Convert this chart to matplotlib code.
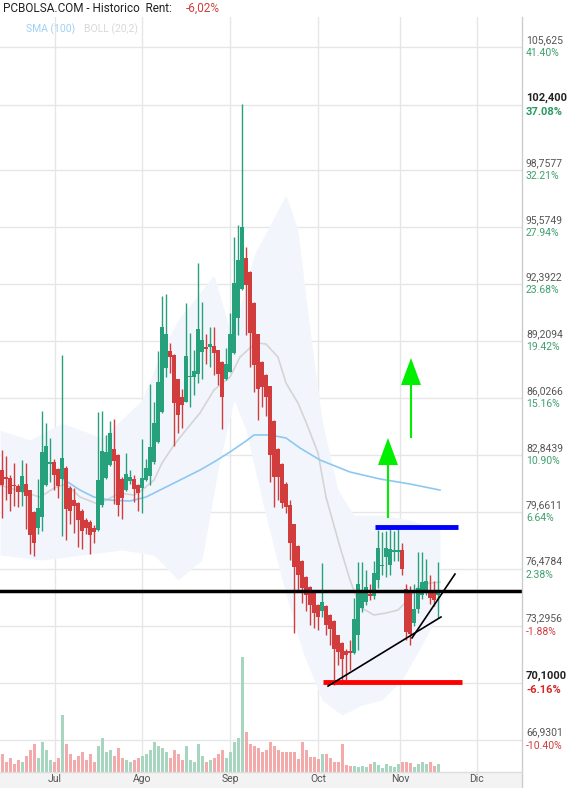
import matplotlib
matplotlib.use("Agg")
import matplotlib.pyplot as plt
import numpy as np

plt.rcParams['font.family'] = ['Roboto', 'DejaVu Sans']

opens = [81.99,81.54,81.54,81.10,81.10,80.76,81.21,80.87,79.64,78.75,
         79.37,81.15,82.33,82.44,82.05,81.49,82.10,80.98,80.31,80.15,
         79.70,79.20,79.09,78.75,78.64,80.04,81.54,82.27,83.17,82.83,
         81.49,80.87,81.35,81.49,81.15,80.98,81.43,81.66,82.44,83.56,
         85.23,87.69,88.64,88.42,87.07,86.07,85.79,87.19,87.19,87.35,
         88.58,88.86,88.86,88.92,88.70,88.03,87.07,87.47,88.53,90.48,
         92.10,93.83,93.05,91.32,89.59,88.03,87.30,86.69,84.73,83.17,
         82.33,81.21,80.04,78.97,77.75,76.91,76.01,75.45,75.12,74.45,
         74.11,74.39,73.89,73.56,72.77,72.33,71.88,71.88,71.77,72.77,
         74.28,74.62,75.06,74.95,75.85,76.63,77.13,76.68,77.41,77.41,
         77.52,75.34,75.29,73.44,74.23,75.01,75.29,75.29,75.23,75.01]
closes = [81.15,81.50,80.65,81.08,80.76,81.66,80.54,78.36,77.91,79.87,
          83.00,83.33,82.44,81.71,81.10,82.66,79.81,79.70,79.98,79.20,
          78.58,78.75,78.36,78.53,81.43,83.05,83.00,84.06,82.50,80.04,
          80.43,81.77,81.60,80.93,80.70,81.54,82.10,83.28,84.62,86.91,
          89.98,89.59,88.30,85.73,85.06,85.62,88.36,87.25,87.52,89.87,
          89.25,88.75,89.03,88.53,87.35,86.07,87.91,89.59,92.44,93.72,
          95.57,92.33,89.65,87.86,86.52,86.63,86.07,82.83,81.60,81.60,
          80.15,79.92,77.91,76.57,76.12,75.40,75.01,74.45,74.00,73.78,
          74.62,73.33,73.11,71.99,71.82,71.43,71.66,71.77,73.67,75.62,
          75.12,75.45,74.95,76.24,77.63,76.68,77.63,77.58,77.52,77.52,
          76.46,72.94,72.83,74.23,75.40,75.73,75.79,74.84,74.73,75.17]
highs = [83.1,82.8,81.7,82.4,81.2,82.55,82.4,80.9,79.7,81.5,
         85.3,84.6,83.8,82.6,82.1,88.4,82.2,81.1,81.0,80.2,
         79.8,79.3,79.2,78.9,85.23,85.3,83.95,84.73,84.85,82.9,
         81.6,82.95,82.0,81.7,81.2,83.7,82.6,86.8,85.8,88.65,
         91.7,91.8,89.1,88.5,87.1,86.5,91.32,89.65,88.7,93.56,
         91.4,89.6,89.98,89.98,88.7,88.1,88.8,90.76,95.0,95.7,
         102.44,94.45,93.1,91.4,89.6,88.1,87.35,86.7,84.8,83.2,
         82.4,81.3,80.3,78.98,77.8,76.95,76.05,75.5,75.15,74.5,
         76.8,74.45,73.95,73.6,72.8,72.4,71.97,72.5,74.84,76.85,
         76.85,76.4,75.6,76.9,78.64,78.53,78.6,78.8,78.6,78.8,
         77.9,75.6,75.5,75.6,77.41,77.41,77.0,76.1,75.8,76.86]
lows = [79.3,80.3,79.7,80.0,79.9,80.0,78.7,77.3,77.2,78.4,
        78.6,81.1,81.3,80.9,80.4,78.3,78.1,79.0,78.5,77.7,
        77.6,78.4,77.3,77.9,78.6,79.95,81.5,82.2,80.1,79.4,
        79.25,80.8,81.2,80.2,79.7,79.6,81.4,81.15,82.3,83.5,
        85.2,87.2,87.4,83.33,84.06,84.34,85.79,85.5,86.2,86.85,
        87.07,87.9,87.75,87.3,86.74,84.28,87.0,87.45,88.5,89.53,
        92.05,89.53,87.75,86.35,84.78,85.5,85.0,81.3,79.92,80.3,
        79.87,79.6,76.96,72.88,75.17,74.56,74.1,73.33,73.15,73.05,
        73.78,72.77,72.2,70.0,71.1,70.1,70.25,70.8,71.7,71.93,
        74.05,74.45,74.75,74.8,75.4,76.1,76.0,76.1,76.9,76.9,
        76.1,72.5,72.2,73.3,74.0,74.8,75.0,74.5,74.4,73.75]
volumes = [18,10,14,8,12,10,16,22,28,14,
           30,22,12,10,14,57,28,18,12,16,
           20,12,18,10,26,34,20,22,16,24,
           14,12,10,12,14,16,18,22,30,26,
           24,20,14,22,18,12,26,12,10,28,
           16,10,12,14,18,22,14,20,30,34,
           115,40,28,26,24,20,22,30,26,22,
           20,20,20,20,13,30,22,15,15,13,
           18,18,14,10,10,28,7,6,6,5,
           6,5,8,10,7,4,8,6,5,8,
           10,10,9,5,8,10,8,10,6,8]

sma_x = [14.5,19.5,23,27,32,36,41,44.5,49.5,53,57,61,63,67,71,74.5,79.5,87,94.5,102,109.5]
sma_y = [81.6,80.87,80.48,80.31,80.26,80.48,81.04,81.43,81.99,82.44,83.0,83.61,83.95,83.95,83.78,83.22,82.55,81.88,81.49,81.21,80.87]
boll_x = [-0.5,9.5,13,16,19.5,24,26,29.5,33,35,38,40,43,46,49.5,53,57,59.5,62,64,66,69,71,74,76,79,81,84.5,87,89.5,93,96,99,101,104,107,109.5]
boll_mid = [81.15,80.48,80.98,81.21,80.48,80.09,80.31,80.70,80.59,80.87,81.43,82.38,83.39,84.23,85.18,86.46,87.19,88.30,88.81,89.09,89.03,88.30,86.85,85.73,84.67,82.94,80.48,77.69,75.85,74.34,73.89,74.00,74.17,74.62,75.45,75.68,75.73]
band_x = [-0.5,7,15,25,35,40,44,48,53,57,60,63,67,71,74,77,80,84,88,95,102,109.5]
band_up = [84.22,83.67,84.62,83.78,85.9,88.7,90.37,91.49,92.89,89.81,91.49,94.0,95.68,97.36,95.40,89.81,84.78,80.87,79.48,79.48,79.20,78.64]
bandl_x = [-0.5,10,20,30,38,44,50,54,58,61,65,70,75,80,85,90,95,100,105,109.5]
band_lo = [77.24,76.96,77.24,77.52,77.24,75.85,76.96,81.99,85.9,84.22,80.31,75.85,71.93,69.14,68.30,68.86,69.14,70.26,72.21,74.17]

month_pos = [13.25, 35, 57, 79, 99.5, 118.75]
month_lab = ['Jul', 'Ago', 'Sep', 'Oct', 'Nov', 'Dic']
tick_vals = [105.625, 98.7577, 95.5749, 92.3922, 89.2094, 86.0266, 82.8439, 79.6611, 76.4784, 73.2956, 66.9301]
tick_txt = ['105,625', '98,7577', '95,5749', '92,3922', '89,2094', '86,0266', '82,8439', '79,6611', '76,4784', '73,2956', '66,9301']
tick_pct = ['41.40%', '32.21%', '27.94%', '23.68%', '19.42%', '15.16%', '10.90%', '6.64%', '2.38%', '-1.88%', '-10.40%']
hi_val, hi_txt, hi_pct = 102.4, '102,400', '37.08%'
lo_val, lo_txt, lo_pct = 70.1, '70,1000', '-6.16%'

support_level = 75.23
blue_seg = ([93.25, 114], 78.81)
red_seg = ([80.25, 115], 70.15)
trend1 = ([81.5, 109.75], [69.92, 73.78])
trend2 = ([102.5, 113.25], [72.61, 76.18])
arrows = [(96.5, 79.36, 82.27, 83.78), (102.25, 83.83, 86.74, 88.25)]

GREEN = '#26a17b'
RED = '#d13d3d'

W, H = 574, 788
fig = plt.figure(figsize=(W/100, H/100), dpi=100)
fig.patch.set_facecolor('white')
ax = fig.add_axes([0, 16/H, 522/W, (772-17)/H])
ax.set_xlim(-0.5, 130)
ax.set_ylim(65.12, 107.30)
ax.set_facecolor('white')
for s in ax.spines.values():
    s.set_visible(False)
ax.set_xticks([]); ax.set_yticks([])

for v in tick_vals + [hi_val, lo_val]:
    ax.axhline(v, color='#e6e6e6', lw=1, zorder=0)
for m in month_pos:
    ax.axvline(m, color='#e6e6e6', lw=1, zorder=0)

xs = np.linspace(-0.5, 109.5, 300)
ax.fill_between(xs, np.interp(xs, bandl_x, band_lo), np.interp(xs, band_x, band_up),
                color='#f2f6fc', lw=0, zorder=1)
ax.plot(boll_x, boll_mid, color='#d4d4d4', lw=1.2, zorder=2)
ax.plot(sma_x, sma_y, color='#8ec8f2', lw=1.2, zorder=2)

vax = ax.twinx()
vax.set_ylim(0, 755)
vax.set_axis_off()
idx = np.arange(len(closes))
up = np.array(closes) >= np.array(opens)
vax.bar(idx, volumes, width=0.75, color=np.where(up, '#a8d5c0', '#f2aaaa'), zorder=1)

o = np.array(opens); c = np.array(closes)
cols = np.where(up, GREEN, RED)
ax.vlines(idx, lows, highs, colors=cols, lw=1, zorder=3)
body_lo = np.minimum(o, c)
body_h = np.maximum(np.abs(c - o), 0.08)
ax.bar(idx, body_h, bottom=body_lo, width=0.78, color=cols, zorder=4, lw=0)

ax.axhline(support_level, color='black', lw=2.5, zorder=6)
ax.plot(blue_seg[0], [blue_seg[1]]*2, color='#0000ff', lw=3.5, zorder=6, solid_capstyle='butt')
ax.plot(red_seg[0], [red_seg[1]]*2, color='#ff0000', lw=3.5, zorder=6, solid_capstyle='butt')
ax.plot(*trend1, color='black', lw=1.2, zorder=6)
ax.plot(*trend2, color='black', lw=1.2, zorder=6)
for (xa, y0, y1, y2) in arrows:
    ax.plot([xa, xa], [y0, y1], color='#00ee00', lw=1.5, zorder=6)
    ax.fill([xa-2.5, xa+2.5, xa], [y1, y1, y2], color='#00ee00', zorder=6, lw=0)

bax = fig.add_axes([0, 0, 522/W, 16/H])
bax.set_facecolor('#f3f3f3')
bax.set_xlim(-0.5, 130); bax.set_ylim(0, 1)
bax.set_xticks([]); bax.set_yticks([])
for s in bax.spines.values():
    s.set_visible(False)
for m, l in zip(month_pos, month_lab):
    bax.text(m, 0.55, l, ha='center', va='center', fontsize=7.5, color='#555555')
fig.add_artist(plt.Line2D([522/W, 522/W], [0, 1-17/H], color='#cccccc', lw=1))
fig.add_artist(plt.Line2D([0, 522/W], [16/H, 16/H], color='#dddddd', lw=1))

def ypix(v):
    return 17 + (107.30 - v) / (107.30 - 65.12) * 755
for v, t, p in zip(tick_vals, tick_txt, tick_pct):
    yp = ypix(v)
    fig.text(526/W, 1-(yp-7)/H, t, fontsize=7.5, color='#555555', va='center')
    fig.text(526/W, 1-(yp+6)/H, p, fontsize=7.5, color=RED if p.startswith('-') else '#3fa06f', va='center')
for v, t, p, col in [(hi_val, hi_txt, hi_pct, '#2a9a62'), (lo_val, lo_txt, lo_pct, '#d42a2a')]:
    yp = ypix(v)
    fig.text(526/W, 1-(yp-7)/H, t, fontsize=8, color='#222222', va='center', fontweight='bold')
    fig.text(526/W, 1-(yp+7)/H, p, fontsize=8, color=col, va='center', fontweight='bold')

fig.text(3/W, 1-8/H, 'PCBOLSA.COM - Historico  Rent:', fontsize=8.5, color='#222222', va='center')
fig.text(186/W, 1-8/H, '-6,02%', fontsize=8.5, color=RED, va='center')
fig.text(26/W, 1-29/H, 'SMA (100)', fontsize=7.5, color='#9fd0f4', va='center')
fig.text(84/W, 1-29/H, 'BOLL (20,2)', fontsize=7.5, color='#d8d8d8', va='center')

fig.savefig('out.png', dpi=100)
